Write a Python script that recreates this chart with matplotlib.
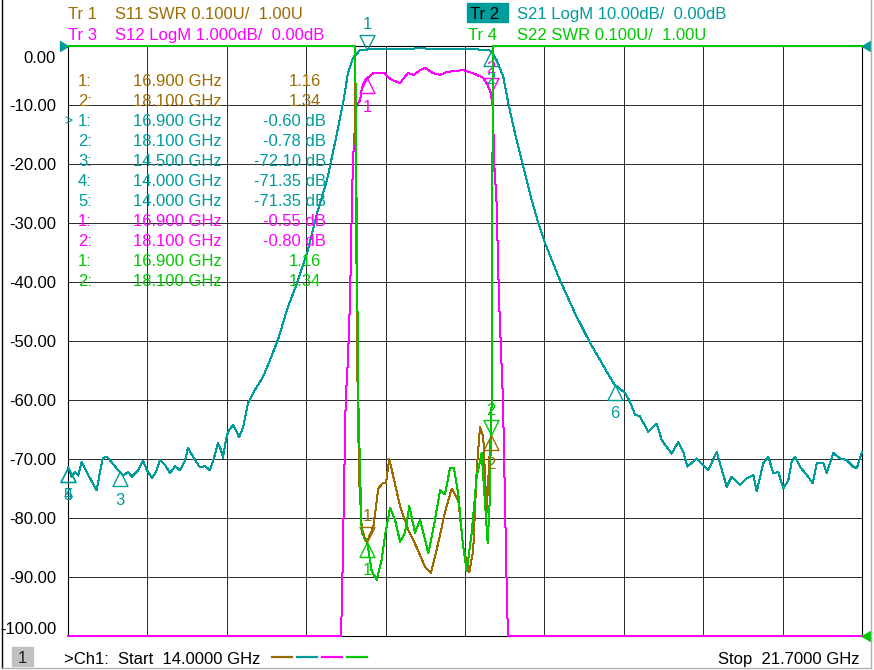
import matplotlib
matplotlib.use("Agg")
import matplotlib.pyplot as plt
import numpy as np
from matplotlib.path import Path
from matplotlib.lines import Line2D
from matplotlib.patches import Rectangle
from matplotlib.transforms import ScaledTranslation

plt.rcParams['font.family'] = ['Liberation Sans', 'DejaVu Sans']
plt.rcParams['font.size'] = 12

W, H = 874, 670

BROWN = '#9C6B00'
TEAL = '#009B9B'
MAGENTA = '#FF00FF'
GREEN = '#00C800'

f_start, f_stop = 14.0, 21.7

# Tr2  S21 LogM, 10 dB/div, ref 0 dB at top
s21_f = [14.000, 14.036, 14.068, 14.100, 14.133, 14.165, 14.230, 14.278, 14.310, 14.337,
         14.375, 14.407, 14.472, 14.500, 14.536, 14.585, 14.618, 14.682, 14.727, 14.766,
         14.815, 14.853, 14.892, 14.941, 14.989, 15.038, 15.086, 15.135, 15.164, 15.203,
         15.251, 15.280, 15.329, 15.377, 15.416, 15.455, 15.484, 15.503, 15.532, 15.552,
         15.600, 15.629, 15.658, 15.697, 15.746, 15.813, 15.891, 15.959, 16.036, 16.133,
         16.221, 16.318, 16.415, 16.512, 16.589, 16.667, 16.715, 16.764, 16.832, 16.900,
         16.977, 17.123, 17.268, 17.414, 17.559, 17.705, 17.850, 17.995, 18.100, 18.157,
         18.221, 18.270, 18.335, 18.415, 18.497, 18.561, 18.626, 18.771, 18.917, 19.062,
         19.159, 19.224, 19.300, 19.402, 19.450, 19.499, 19.547, 19.628, 19.709, 19.758,
         19.854, 19.918, 19.967, 20.006, 20.097, 20.209, 20.291, 20.388, 20.436, 20.517,
         20.582, 20.646, 20.679, 20.743, 20.791, 20.840, 20.888, 20.937, 20.985, 21.018,
         21.050, 21.098, 21.163, 21.222, 21.261, 21.325, 21.358, 21.422, 21.487, 21.552,
         21.616, 21.649, 21.700]
s21_db = [-71.35, -73.0, -72.2, -72.8, -70.5, -71.6, -73.8, -75.3, -72.2, -69.9,
          -69.6, -70.2, -71.6, -72.1, -72.8, -72.2, -73.0, -71.9, -70.3, -71.9,
          -73.2, -72.2, -70.2, -71.0, -72.4, -71.2, -71.9, -70.2, -68.1, -69.3,
          -70.7, -71.4, -71.2, -71.9, -69.8, -67.3, -68.5, -69.8, -66.8, -65.4,
          -64.2, -65.1, -66.3, -64.7, -60.5, -58.3, -56.1, -53.2, -49.8, -44.2,
          -40.2, -35.1, -28.3, -22.7, -16.4, -9.7, -4.6, -2.0, -0.7, -0.60,
          -0.50, -0.45, -0.50, -0.38, -0.50, -0.45, -0.52, -0.60, -0.78, -2.4,
          -5.2, -9.7, -14.8, -20.5, -26.1, -30.0, -33.4, -39.7, -45.3, -50.3,
          -53.2, -55.2, -57.4, -58.8, -60.3, -62.5, -62.8, -65.4, -64.0, -66.8,
          -69.1, -67.1, -68.8, -71.3, -69.9, -71.9, -68.8, -74.7, -73.0, -74.4,
          -73.3, -72.7, -75.5, -70.7, -69.6, -72.4, -72.2, -75.0, -73.6, -70.5,
          -69.6, -71.3, -72.7, -74.1, -70.7, -70.7, -72.4, -69.0, -69.9, -70.2,
          -71.3, -71.6, -68.8]

# Tr3  S12 LogM, 1 dB/div, ref 0 dB at top (pinned at -10 dB when off screen)
s12_f = [14.000, 16.647, 16.657, 16.693, 16.715, 16.735, 16.754, 16.764, 16.793, 16.832,
         16.851, 16.880, 16.900, 16.961, 17.026, 17.074, 17.103, 17.152, 17.220, 17.258,
         17.297, 17.355, 17.414, 17.462, 17.540, 17.608, 17.675, 17.772, 17.831, 17.928,
         18.025, 18.070, 18.100, 18.122, 18.131, 18.155, 18.180, 18.218, 18.257, 18.267,
         21.700]
s12_db = [-10.0, -10.0, -9.4, -6.0, -5.3, -4.3, -2.6, -1.93, -1.03, -0.92,
          -0.71, -0.58, -0.55, -0.46, -0.46, -0.46, -0.53, -0.58, -0.63, -0.54,
          -0.46, -0.49, -0.41, -0.37, -0.46, -0.49, -0.44, -0.42, -0.41, -0.46,
          -0.54, -0.66, -0.80, -1.08, -1.93, -2.6, -4.3, -6.0, -9.4, -10.0,
          -10.0]

# Tr1  S11 SWR, 0.1 U/div, ref 1.00 U at bottom (pinned at 2.0 when off screen)
s11_f = [14.000, 16.780, 16.809, 16.825, 16.848, 16.880, 16.900, 16.961, 17.009, 17.058,
         17.084, 17.116, 17.155, 17.220, 17.300, 17.382, 17.462, 17.520, 17.591, 17.656,
         17.721, 17.785, 17.833, 17.892, 17.930, 17.963, 17.995, 18.027, 18.060, 18.086,
         18.100, 18.109, 18.120, 21.700]
s11_swr = [2.0, 2.0, 1.40, 1.26, 1.185, 1.163, 1.16, 1.185, 1.25, 1.26,
           1.26, 1.30, 1.27, 1.22, 1.18, 1.15, 1.117, 1.107, 1.158, 1.21,
           1.25, 1.23, 1.15, 1.108, 1.146, 1.28, 1.354, 1.337, 1.21, 1.30,
           1.34, 1.40, 2.0, 2.0]

# Tr4  S22 SWR, 0.1 U/div, ref 1.00 U at bottom
s22_f = [14.000, 16.785, 16.815, 16.848, 16.900, 16.945, 16.994, 17.042, 17.074, 17.123,
         17.171, 17.220, 17.268, 17.310, 17.365, 17.414, 17.446, 17.494, 17.559, 17.608,
         17.656, 17.705, 17.743, 17.785, 17.828, 17.866, 17.915, 17.963, 18.012, 18.054,
         18.070, 18.092, 18.100, 18.109, 18.121, 21.700]
s22_swr = [2.0, 2.0, 1.40, 1.175, 1.16, 1.11, 1.095, 1.13, 1.17, 1.217,
           1.197, 1.16, 1.175, 1.22, 1.175, 1.197, 1.175, 1.14, 1.197, 1.247,
           1.24, 1.285, 1.285, 1.24, 1.158, 1.11, 1.175, 1.27, 1.31, 1.20,
           1.158, 1.236, 1.34, 1.40, 2.0, 2.0]

# markers: (number, GHz, value)
s11_mk = [(1, 16.9, 1.16), (2, 18.1, 1.34)]
s21_mk = [(1, 16.9, -0.60), (2, 18.1, -0.78), (3, 14.5, -72.10),
          (4, 14.0, -71.35), (5, 14.0, -71.35), (6, 19.3, -57.40)]
s12_mk = [(1, 16.9, -0.55), (2, 18.1, -0.80)]
s22_mk = [(1, 16.9, 1.16), (2, 18.1, 1.34)]
active = {'s11': 1, 's21': 1, 's12': 2, 's22': 2}
table_n = {'s11': 2, 's21': 5, 's12': 2, 's22': 2}   # rows shown in the table

yticks = np.arange(-100, 1, 10)


def px(x, y):
    return x / W, 1 - y / H


fig = plt.figure(figsize=(W / 100, H / 100), dpi=100)
fig.patch.set_facecolor('white')
ax = fig.add_axes([68 / W, (H - 636) / H, 794 / W, 590 / H])
ax.set_xlim(f_start, f_stop)
ax.set_ylim(-100, 0)
ax.set_xticks(np.linspace(f_start, f_stop, 11))
ax.set_xticklabels([])
ax.set_yticks(yticks)
ax.set_yticklabels([f"{v:.2f}" for v in yticks])
ax.tick_params(length=0)
ax.tick_params(axis='y', pad=8.6, labelsize=12)
ax.grid(color='#303030', lw=0.72, antialiased=False)
for s in ax.spines.values():
    s.set_color('black')
    s.set_linewidth(0.8)
labs = ax.get_yticklabels()
labs[-1].set_transform(labs[-1].get_transform() + ScaledTranslation(0, -0.11, fig.dpi_scale_trans))
labs[0].set_transform(labs[0].get_transform() + ScaledTranslation(0, 0.08, fig.dpi_scale_trans))

ax_s12 = ax.twinx()
ax_s12.set_ylim(-10, 0)
ax_s12.axis('off')
ax_swr = ax.twinx()
ax_swr.set_ylim(1.0, 2.0)
ax_swr.axis('off')

lw = 0.72
ax_swr.plot(s11_f, s11_swr, color=BROWN, lw=lw, clip_on=False, zorder=3, antialiased=False)
ax.plot(s21_f, s21_db, color=TEAL, lw=lw, clip_on=False, zorder=3, antialiased=False)
ax_s12.plot(s12_f, s12_db, color=MAGENTA, lw=lw, clip_on=False, zorder=3, antialiased=False)
ax_swr.plot(s22_f, s22_swr, color=GREEN, lw=lw, clip_on=False, zorder=4, antialiased=False)

tri_up = Path([(0, 0), (-0.5, -1), (0.5, -1), (0, 0)],
              [Path.MOVETO, Path.LINETO, Path.LINETO, Path.CLOSEPOLY])
tri_dn = Path([(0, 0), (-0.5, 1), (0.5, 1), (0, 0)],
              [Path.MOVETO, Path.LINETO, Path.LINETO, Path.CLOSEPOLY])


def draw_markers(a, mk, color, act):
    for n, f, v in mk:
        if n == act:
            a.plot(f, v, marker=tri_dn, ms=21.6, mfc='none', mec=color, mew=1,
                   clip_on=False, zorder=6)
            a.annotate(str(n), (f, v), xytext=(0, 25), textcoords='offset pixels',
                       ha='center', va='center', color=color, fontsize=12,
                       annotation_clip=False, zorder=6)
        else:
            a.plot(f, v, marker=tri_up, ms=21.6, mfc='none', mec=color, mew=1,
                   clip_on=False, zorder=6)
            a.annotate(str(n), (f, v), xytext=(0, -29), textcoords='offset pixels',
                       ha='center', va='center', color=color, fontsize=12,
                       annotation_clip=False, zorder=6)


draw_markers(ax_swr, s11_mk, BROWN, active['s11'])
draw_markers(ax, s21_mk, TEAL, active['s21'])
draw_markers(ax_s12, s12_mk, MAGENTA, active['s12'])
draw_markers(ax_swr, s22_mk, GREEN, active['s22'])

# reference position arrows
ref_r = Path([(0, 0), (-1, 0.6), (-1, -0.6), (0, 0)],
             [Path.MOVETO, Path.LINETO, Path.LINETO, Path.CLOSEPOLY])
ref_l = Path([(0, 0), (1, 0.6), (1, -0.6), (0, 0)],
             [Path.MOVETO, Path.LINETO, Path.LINETO, Path.CLOSEPOLY])
ax.plot(f_start, 0, marker=ref_r, ms=11.5, color=TEAL, clip_on=False, zorder=7)
ax.plot(f_stop, 0, marker=ref_l, ms=11.5, color=TEAL, clip_on=False, zorder=7)
ax_swr.plot(f_stop, 1.0, marker=ref_l, ms=11.5, color=GREEN, clip_on=False, zorder=7)

# header
fig.text(*px(68, 19), "Tr 1", color=BROWN, va='baseline')
fig.text(*px(115, 19), "S11 SWR 0.100U/  1.00U", color=BROWN, va='baseline')
fig.patches.append(Rectangle(px(467, 22), 41 / W, 19 / H, transform=fig.transFigure,
                             color=TEAL, zorder=0))
fig.text(*px(470, 19), "Tr 2", color='black', va='baseline')
fig.text(*px(517, 19), "S21 LogM 10.00dB/  0.00dB", color=TEAL, va='baseline')
fig.text(*px(68, 40), "Tr 3", color=MAGENTA, va='baseline')
fig.text(*px(115, 40), "S12 LogM 1.000dB/  0.00dB", color=MAGENTA, va='baseline')
fig.text(*px(468, 40), "Tr 4", color=GREEN, va='baseline')
fig.text(*px(517, 40), "S22 SWR 0.100U/  1.00U", color=GREEN, va='baseline')

# marker table
rows = []
for key, mk, color, unit in [('s11', s11_mk, BROWN, ''), ('s21', s21_mk, TEAL, ' dB'),
                             ('s12', s12_mk, MAGENTA, ' dB'), ('s22', s22_mk, GREEN, '')]:
    for n, f, v in mk[:table_n[key]]:
        rows.append((key, n, f, v, color, unit))
for i, (key, n, f, v, color, unit) in enumerate(rows):
    yb = 86 + 20 * i
    fig.text(*px(78, yb), f"{n}:", color=color, va='baseline')
    fig.text(*px(222, yb), f"{f:.3f} GHz", color=color, va='baseline', ha='right')
    xr = 326 if unit else 321
    fig.text(*px(xr, yb), f"{v:.2f}{unit}", color=color, va='baseline', ha='right')
    if key == 's21' and n == active['s21']:
        fig.text(*px(64, yb - 1), ">", color=color, va='baseline', fontsize=10)

# status bar
fig.patches.append(Rectangle(px(12, 666), 21 / W, 19 / H, transform=fig.transFigure,
                             color='#C0C0C0', zorder=0))
fig.text(*px(22.5, 663), "1", color='#202020', va='baseline', ha='center')
fig.text(*px(64, 664), f">Ch1:  Start  {f_start:.4f} GHz", color='black', va='baseline')
for x0, c in zip([272, 297, 322, 347], [BROWN, TEAL, MAGENTA, GREEN]):
    fig.add_artist(Line2D([x0 / W, (x0 + 20) / W], [1 - 657 / H] * 2, color=c, lw=1.6))
fig.text(*px(859, 664), f"Stop  {f_stop:.4f} GHz", color='black', va='baseline', ha='right')

# outer frame
fig.add_artist(Line2D([1.5 / W] * 2, [1 - 668 / H, 1], color='black', lw=1))
fig.add_artist(Line2D([1.5 / W, 871 / W], [1 - 668 / H] * 2, color='#B0B0B0', lw=1))
fig.add_artist(Line2D([871 / W] * 2, [1 - 668 / H, 1], color='#B0B0B0', lw=1))

fig.savefig('out.png', dpi=100, facecolor='white')
